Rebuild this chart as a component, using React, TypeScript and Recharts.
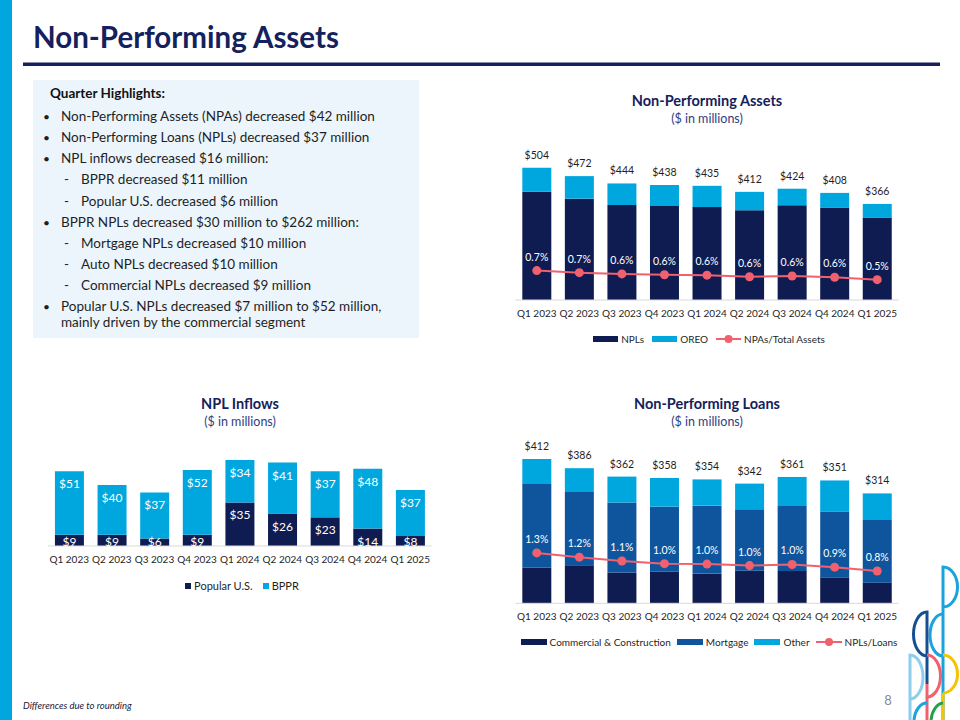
import React from 'react';
import {
  ComposedChart,
  BarChart,
  Bar,
  Line,
  XAxis,
  YAxis,
  Legend,
  LabelList,
} from 'recharts';

// ---------- data ----------
const quarters = ['Q1 2023', 'Q2 2023', 'Q3 2023', 'Q4 2023', 'Q1 2024', 'Q2 2024', 'Q3 2024', 'Q4 2024', 'Q1 2025'];

// Non-Performing Assets ($ millions)
const npaNpls = [412, 386, 362, 358, 354, 342, 361, 351, 314];
const npaOreo = [92, 86, 82, 80, 81, 70, 63, 57, 52];
const npaTotals = [504, 472, 444, 438, 435, 412, 424, 408, 366];
const npaToAssets = [0.71, 0.66, 0.63, 0.61, 0.6, 0.56, 0.58, 0.55, 0.49];

// NPL inflows ($ millions)
const inflowPopularUS = [9, 9, 6, 9, 35, 26, 23, 14, 8];
const inflowBPPR = [51, 40, 37, 52, 34, 41, 37, 48, 37];

// Non-Performing Loans ($ millions)
const nplCommercial = [102, 109, 88, 90, 85, 93, 92, 74, 59];
const nplMortgage = [239, 209, 200, 186, 194, 176, 186, 188, 179];
const nplOther = [71, 68, 74, 82, 75, 73, 83, 89, 76];
const nplTotals = [412, 386, 362, 358, 354, 342, 361, 351, 314];
const nplToLoans = [1.31, 1.2, 1.1, 1.03, 1.02, 0.98, 1.01, 0.94, 0.84];

const highlights = [
  { text: 'Non-Performing Assets (NPAs) decreased $42 million', level: 1 },
  { text: 'Non-Performing Loans (NPLs) decreased $37 million', level: 1 },
  { text: 'NPL inflows decreased $16 million:', level: 1 },
  { text: 'BPPR decreased $11 million', level: 2 },
  { text: 'Popular U.S. decreased $6 million', level: 2 },
  { text: 'BPPR NPLs decreased $30 million to $262 million:', level: 1 },
  { text: 'Mortgage NPLs decreased $10 million', level: 2 },
  { text: 'Auto NPLs decreased $10 million', level: 2 },
  { text: 'Commercial NPLs decreased $9 million', level: 2 },
  { text: 'Popular U.S. NPLs decreased $7 million to $52 million,', level: 1 },
  { text: 'mainly driven by the commercial segment', level: 0 },
];
const highlightBaselines = [121, 142, 163, 184, 205.5, 226.5, 247.5, 268.5, 290, 311, 327];

// ---------- tables ----------
const npaData = quarters.map((q, i) => ({
  q,
  npls: npaNpls[i],
  oreo: npaOreo[i],
  total: npaTotals[i],
  ratio: npaToAssets[i],
}));
const inflowData = quarters.map((q, i) => ({ q, us: inflowPopularUS[i], bppr: inflowBPPR[i] }));
const nplData = quarters.map((q, i) => ({
  q,
  comm: nplCommercial[i],
  mort: nplMortgage[i],
  other: nplOther[i],
  total: nplTotals[i],
  ratio: nplToLoans[i],
}));

// ---------- style ----------
const FONT = "Lato, 'Noto Sans', sans-serif";
const NAVY = '#0E1C52';
const CYAN = '#00A7DF';
const MID = '#0F559D';
const PINK = '#F0606E';
const TITLE = '#14215C';
const SUB = '#2E3D82';
const TXT = '#1F1F1F';

const money = (v: any) => `$${v}`;
const pct = (v: any) => `${Number(v).toFixed(1)}%`;

const inflowLabel = (props: any) => {
  const vb = props.viewBox && props.viewBox.width != null ? props.viewBox : props;
  const x = Number(vb.x);
  const y = Number(vb.y);
  const w = Number(vb.width);
  const h = Number(vb.height);
  const top = Math.min(y, y + h);
  const bottom = Math.max(y, y + h);
  const cy = Math.min(top + 12.5, bottom - 4.5);
  return (
    <text
      x={x + w / 2}
      y={cy}
      textAnchor="middle"
      dominantBaseline="central"
      fontSize={12}
      fill="#fff"
      fontFamily={FONT}
    >
      {`$${props.value}`}
    </text>
  );
};

function makeLegend(order: string[], iconW: number, iconH: number, fontSize: number, gap: number, shift: number) {
  return (props: any) => {
    const items = [...(props.payload || [])].sort(
      (a: any, b: any) => order.indexOf(a.value) - order.indexOf(b.value)
    );
    return (
      <div
        style={{
          display: 'flex',
          justifyContent: 'center',
          alignItems: 'center',
          fontFamily: FONT,
          fontSize,
          color: TXT,
          lineHeight: '14px',
          marginLeft: shift,
        }}
      >
        {items.map((it: any, k: number) => (
          <span key={it.value} style={{ display: 'inline-flex', alignItems: 'center', marginLeft: k ? gap : 0 }}>
            <svg width={iconW} height={12} style={{ display: 'block' }}>
              {it.type === 'line' ? (
                <g>
                  <line x1={0} y1={6} x2={iconW} y2={6} stroke={it.color} strokeWidth={2} />
                  <circle cx={iconW / 2} cy={6} r={4} fill={it.color} />
                </g>
              ) : (
                <rect x={0} y={6 - iconH / 2} width={iconW} height={iconH} fill={it.color} />
              )}
            </svg>
            <span style={{ marginLeft: 3 }}>{it.value}</span>
          </span>
        ))}
      </div>
    );
  };
}

const Logo = () => (
  <g fill="none" strokeWidth={3}>
    <path d="M943 720 L943 567 A14.5 20 0 0 1 943 607" stroke="#1AA3DC" />
    <path d="M943 614 A13 21 0 0 0 943 656" stroke="#1AA3DC" />
    <path d="M927 684 L927 612 A13.5 22 0 0 0 927 656" stroke="#154F91" />
    <path d="M910 720 L910 655 A13 22 0 0 1 910 699" stroke="#8DCDEF" />
    <path d="M927 720 L927 684" stroke={PINK} />
    <path d="M927 655 A13.5 21 0 0 1 927 697" stroke={PINK} />
    <path d="M943 720 L943 693" stroke="#F5C400" />
    <path d="M943 655 A14.5 19 0 0 1 943 693" stroke="#F5C400" />
    <path d="M943 703 A13 20 0 0 0 931 720" stroke="#22A04B" />
    <path d="M927 703 A13 20 0 0 0 914 720" stroke="#1AA3DC" />
  </g>
);

const StaticLayer = () => (
  <svg width={960} height={720} style={{ position: 'absolute', left: 0, top: 0 }} fontFamily={FONT}>
    <rect x={0} y={0} width={12} height={720} fill={CYAN} />
    <text x={33} y={47.5} fontSize={29.5} fontWeight={700} fill={TITLE}>
      Non-Performing Assets
    </text>
    <rect x={23} y={62.5} width={917} height={3.5} fill={TITLE} />
    <rect x={33} y={80} width={386} height={258} fill="#EBF5FB" />
    <text x={50} y={98} fontSize={13.5} fontWeight={700} fill="#111">
      Quarter Highlights:
    </text>
    {highlights.map((h, i) => {
      const y = highlightBaselines[i];
      if (h.level === 1)
        return (
          <g key={i}>
            <text x={43} y={y} fontSize={12} fill={TXT}>•</text>
            <text x={61} y={y} fontSize={13.5} fill={TXT}>{h.text}</text>
          </g>
        );
      if (h.level === 2)
        return (
          <g key={i}>
            <text x={64} y={y} fontSize={13.5} fill={TXT}>-</text>
            <text x={81} y={y} fontSize={13.5} fill={TXT}>{h.text}</text>
          </g>
        );
      return (
        <text key={i} x={61} y={y} fontSize={13.5} fill={TXT}>{h.text}</text>
      );
    })}

    <text x={707} y={106} fontSize={14.5} fontWeight={700} fill={TITLE} textAnchor="middle">
      Non-Performing Assets
    </text>
    <text x={707} y={123} fontSize={12.5} fill={SUB} textAnchor="middle">
      ($ in millions)
    </text>
    <text x={240} y={409} fontSize={14.5} fontWeight={700} fill={TITLE} textAnchor="middle">
      NPL Inflows
    </text>
    <text x={240} y={426} fontSize={12.5} fill={SUB} textAnchor="middle">
      ($ in millions)
    </text>
    <text x={707} y={409} fontSize={14.5} fontWeight={700} fill={TITLE} textAnchor="middle">
      Non-Performing Loans
    </text>
    <text x={707} y={426} fontSize={12.5} fill={SUB} textAnchor="middle">
      ($ in millions)
    </text>

    <text x={23} y={709} fontSize={9.5} fontStyle="italic" fill="#1A1A3A">
      Differences due to rounding
    </text>
    <text x={888} y={705} fontSize={13} fill="#8A8A8A" textAnchor="middle">
      8
    </text>
    <Logo />
  </svg>
);

const tickStyle = { fontSize: 10, fill: TXT, fontFamily: FONT };

export default function App() {
  return (
    <div style={{ position: 'fixed', left: 0, top: 0, width: 960, height: 720, background: '#fff', overflow: 'hidden', fontFamily: FONT }}>
      <StaticLayer />

      {/* Non-Performing Assets */}
      <div style={{ position: 'absolute', left: 500, top: 130 }}>
        <ComposedChart
          width={410}
          height={230}
          data={npaData}
          margin={{ top: 12.5, left: 15.5, right: 11.5, bottom: 30 }}
          barCategoryGap="16%"
        >
          <XAxis dataKey="q" tickLine={false} axisLine={{ stroke: '#D9D9D9' }} tick={tickStyle} tickMargin={4} interval={0} height={30} />
          <YAxis yAxisId="l" hide domain={[0, 600]} />
          <YAxis yAxisId="r" hide domain={[0, 3.8]} orientation="right" />
          <Bar yAxisId="l" dataKey="npls" name="NPLs" stackId="a" fill={NAVY} isAnimationActive={false} />
          <Bar yAxisId="l" dataKey="oreo" name="OREO" stackId="a" fill={CYAN} isAnimationActive={false}>
            <LabelList dataKey="total" position="top" offset={9} formatter={money} style={{ fontSize: 10.5, fill: TXT, fontFamily: FONT }} />
          </Bar>
          <Line
            yAxisId="r"
            dataKey="ratio"
            name="NPAs/Total Assets"
            stroke={PINK}
            strokeWidth={2}
            dot={{ r: 4.5, fill: PINK, stroke: PINK, strokeWidth: 0 }}
            isAnimationActive={false}
          >
            <LabelList dataKey="ratio" position="top" offset={10} formatter={pct} style={{ fontSize: 10.5, fill: '#fff', fontFamily: FONT }} />
          </Line>
          <Legend
            layout="horizontal"
            verticalAlign="middle"
            align="center"
            wrapperStyle={{ position: 'absolute', top: 202, left: 0, width: 410 }}
            content={makeLegend(['NPLs', 'OREO', 'NPAs/Total Assets'], 25, 6, 10, 8, 8)}
          />
        </ComposedChart>
      </div>

      {/* NPL Inflows */}
      <div style={{ position: 'absolute', left: 30, top: 430 }}>
        <BarChart
          width={420}
          height={170}
          data={inflowData}
          margin={{ top: 16.3, left: 17.9, right: 18.5, bottom: 24 }}
          barCategoryGap="16.5%"
        >
          <XAxis dataKey="q" tickLine={false} axisLine={{ stroke: '#D9D9D9' }} tick={tickStyle} tickMargin={4} interval={0} height={30} />
          <YAxis hide domain={[0, 80]} />
          <Bar dataKey="us" name="Popular U.S." stackId="a" fill={NAVY} isAnimationActive={false}>
            <LabelList dataKey="us" content={inflowLabel} />
          </Bar>
          <Bar dataKey="bppr" name="BPPR" stackId="a" fill={CYAN} isAnimationActive={false}>
            <LabelList dataKey="bppr" content={inflowLabel} />
          </Bar>
          <Legend
            layout="horizontal"
            verticalAlign="middle"
            align="center"
            wrapperStyle={{ position: 'absolute', top: 149, left: 0, width: 420 }}
            content={makeLegend(['Popular U.S.', 'BPPR'], 6, 6, 11, 10, 4)}
          />
        </BarChart>
      </div>

      {/* Non-Performing Loans */}
      <div style={{ position: 'absolute', left: 500, top: 420 }}>
        <ComposedChart
          width={410}
          height={240}
          data={nplData}
          margin={{ top: 8.3, left: 15.5, right: 11.5, bottom: 26.7 }}
          barCategoryGap="16%"
        >
          <XAxis dataKey="q" tickLine={false} axisLine={{ stroke: '#D9D9D9' }} tick={tickStyle} tickMargin={4} interval={0} height={30} />
          <YAxis yAxisId="l" hide domain={[0, 500]} />
          <YAxis yAxisId="r" hide domain={[0, 4.55]} orientation="right" />
          <Bar yAxisId="l" dataKey="comm" name="Commercial & Construction" stackId="a" fill={NAVY} isAnimationActive={false} />
          <Bar yAxisId="l" dataKey="mort" name="Mortgage" stackId="a" fill={MID} isAnimationActive={false} />
          <Bar yAxisId="l" dataKey="other" name="Other" stackId="a" fill={CYAN} isAnimationActive={false}>
            <LabelList dataKey="total" position="top" offset={9} formatter={money} style={{ fontSize: 10.5, fill: TXT, fontFamily: FONT }} />
          </Bar>
          <Line
            yAxisId="r"
            dataKey="ratio"
            name="NPLs/Loans"
            stroke={PINK}
            strokeWidth={2}
            dot={{ r: 4.5, fill: PINK, stroke: PINK, strokeWidth: 0 }}
            isAnimationActive={false}
          >
            <LabelList dataKey="ratio" position="top" offset={10} formatter={pct} style={{ fontSize: 10.5, fill: '#fff', fontFamily: FONT }} />
          </Line>
          <Legend
            layout="horizontal"
            verticalAlign="middle"
            align="center"
            wrapperStyle={{ position: 'absolute', top: 215, left: 0, width: 410 }}
            content={makeLegend(['Commercial & Construction', 'Mortgage', 'Other', 'NPLs/Loans'], 26, 6, 10, 6, 8)}
          />
        </ComposedChart>
      </div>
    </div>
  );
}
